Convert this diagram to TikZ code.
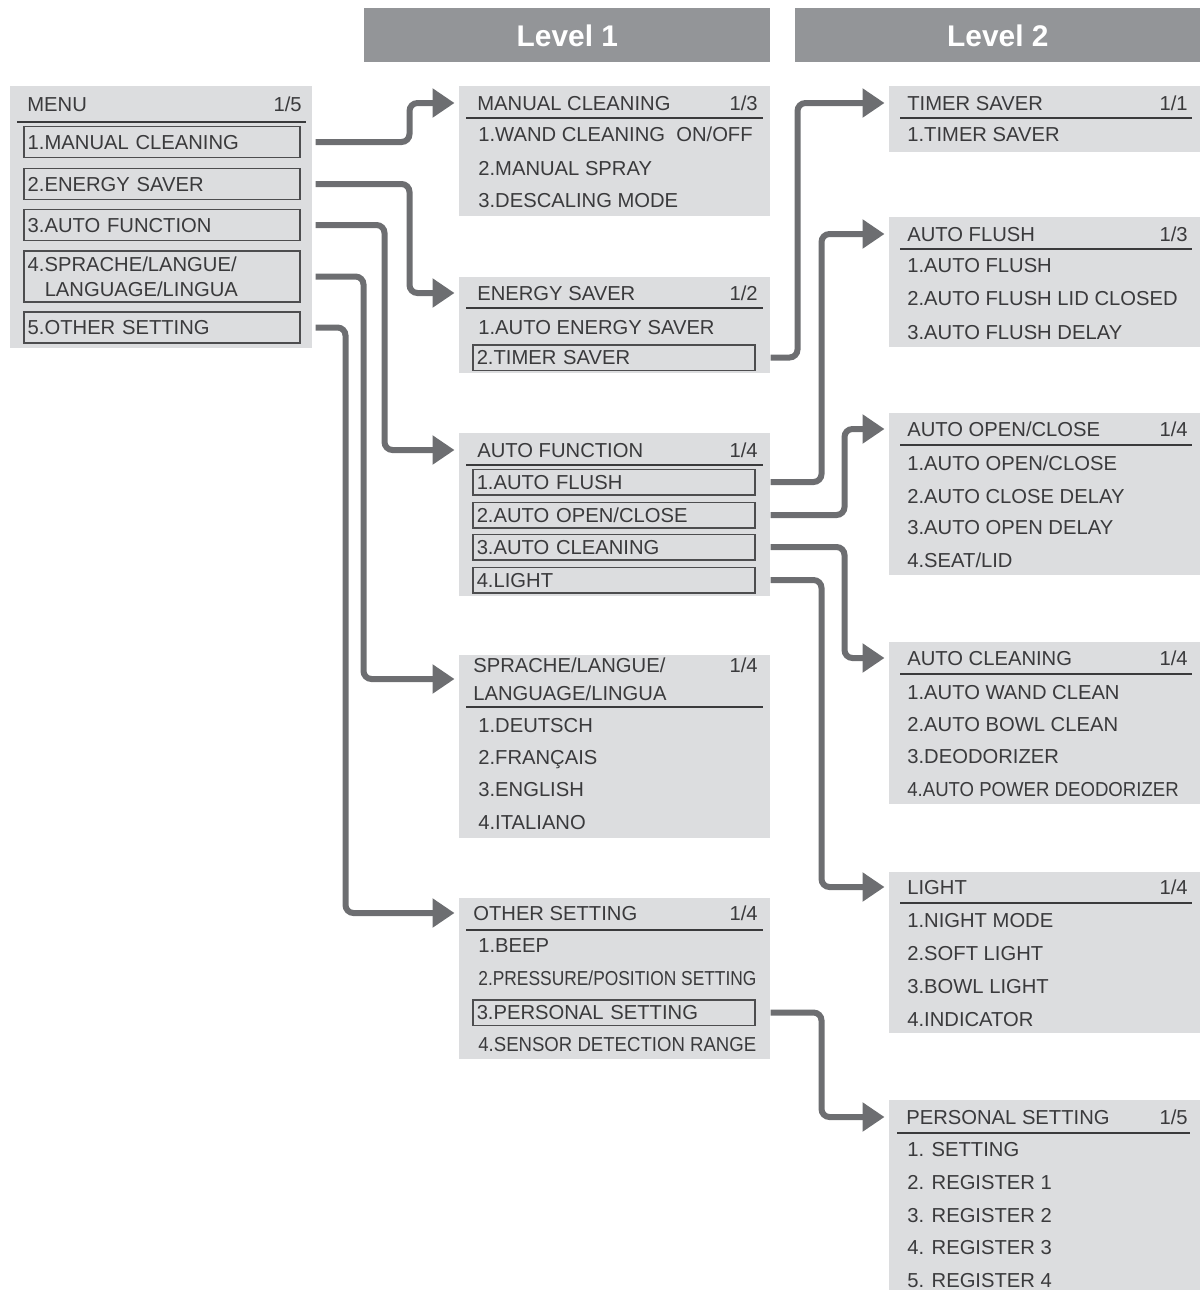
\documentclass[tikz,border=0pt]{standalone}
\usepackage{fontspec}
\setmainfont{Liberation Sans}
\usepackage{graphicx}
\usetikzlibrary{arrows.meta, positioning}

\definecolor{panelgray}{HTML}{DCDDDF}
\definecolor{levelgray}{HTML}{939598}
\definecolor{linkgray}{HTML}{6D6E71}
\definecolor{txtgray}{HTML}{3A3A3C}
\definecolor{boxgray}{HTML}{4D4D4F}

% horizontally squeezed text
\newcommand{\narrowtxt}[2]{\scalebox{#1}[1]{#2}}

\tikzset{
  panel/.style={fill=panelgray},
  levelbar/.style={fill=levelgray, text=white, font=\fontsize{17}{20}\selectfont\bfseries,
    minimum height=10.8mm, anchor=north west, inner sep=0pt},
  txt/.style={anchor=west, inner sep=0pt, text=txtgray, font=\fontsize{11.5}{14.2}\selectfont,
    text height=2.9mm, text depth=0pt},
  ttl/.style={txt, inner xsep=3.6mm},
  pg/.style={txt, anchor=east},
  rule/.style={draw=txtgray, line width=0.45mm},
  itembox/.style={txt, draw=boxgray, line width=0.3mm, inner xsep=0.8mm,
    text width=54.8mm, minimum height=5.1mm},
  menubox/.style={txt, draw=boxgray, line width=0.3mm, inner xsep=0.8mm,
    text width=53.6mm, minimum height=6.2mm},
  link/.style={draw=linkgray, line width=1.2mm, rounded corners=1.6mm,
    shorten <=3mm, shorten >=0.9mm, -{Triangle[length=4.4mm,width=5.6mm]}}
}

\begin{document}
\begin{tikzpicture}[x=0.2mm, y=-0.2mm]
\useasboundingbox (0,0) rectangle (1200,1290);

% headers
\node[levelbar, minimum width=81.2mm] (lvl1) at (364,8) {Level 1};
\node[levelbar, minimum width=81mm] (lvl2) at (795,8) {Level 2};

% panels
\fill[panel] (10,86) rectangle (312,348);
\fill[panel] (459,86) rectangle (770,216);
\fill[panel] (459,277) rectangle (770,373);
\fill[panel] (459,433) rectangle (770,596);
\fill[panel] (459,655) rectangle (770,838);
\fill[panel] (459,898) rectangle (770,1059);
\fill[panel] (889,86) rectangle (1200,152);
\fill[panel] (889,217) rectangle (1200,347);
\fill[panel] (889,413) rectangle (1200,575);
\fill[panel] (889,642) rectangle (1200,804);
\fill[panel] (889,872) rectangle (1200,1033);
\fill[panel] (889,1100) rectangle (1200,1290);

% menu
\node[txt] (menuT) at (27,104) {MENU};
\node[pg] (menuP) at (302,104) {1/5};
\draw[rule] (17,122) -- (306,122);
\node[menubox] (m1) at (23,142) {1.MANUAL CLEANING};
\node[menubox] (m2) at (23,184) {2.ENERGY SAVER};
\node[menubox] (m3) at (23,225) {3.AUTO FUNCTION};
\node[menubox, text depth=5mm, minimum height=10.2mm] (m4) at (23,276.5)
  {4.SPRACHE/LANGUE/\\\hspace*{3.4mm}LANGUAGE/LINGUA};
\node[menubox] (m5) at (23,327.5) {5.OTHER SETTING};

% level 1
\node[ttl] (mcT) at (459,103) {MANUAL CLEANING};
\node[pg] (mcP) at (758,103) {1/3};
\draw[rule] (466,118) -- (763,118);
\node[txt] (mc1) at (478,134) {1.WAND CLEANING\ \ ON/OFF};
\node[txt] (mc2) at (478,168) {2.MANUAL SPRAY};
\node[txt] (mc3) at (478,200) {3.DESCALING MODE};

\node[ttl] (esT) at (459,293) {ENERGY SAVER};
\node[pg] (esP) at (758,293) {1/2};
\draw[rule] (466,308) -- (763,308);
\node[txt] (es1) at (478,327) {1.AUTO ENERGY SAVER};
\node[itembox] (es2) at (472,357.5) {2.TIMER SAVER};

\node[ttl] (afT) at (459,450) {AUTO FUNCTION};
\node[pg] (afP) at (758,450) {1/4};
\draw[rule] (466,465) -- (763,465);
\node[itembox] (af1) at (472,482) {1.AUTO FLUSH};
\node[itembox] (af2) at (472,515) {2.AUTO OPEN/CLOSE};
\node[itembox] (af3) at (472,547) {3.AUTO CLEANING};
\node[itembox] (af4) at (472,580) {4.LIGHT};

\node[ttl, inner xsep=2.8mm, text width=55mm, text depth=5.6mm,
  font=\fontsize{11.5}{15.9}\selectfont] (spT) at (459,679)
  {SPRACHE/LANGUE/\\LANGUAGE/LINGUA};
\node[pg] (spP) at (758,665) {1/4};
\draw[rule] (466,707) -- (763,707);
\node[txt] (sp1) at (478,725) {1.DEUTSCH};
\node[txt] (sp2) at (478,757) {2.FRANÇAIS};
\node[txt] (sp3) at (478,789) {3.ENGLISH};
\node[txt] (sp4) at (478,822) {4.ITALIANO};

\node[ttl, inner xsep=2.8mm] (osT) at (459,913) {OTHER SETTING};
\node[pg] (osP) at (758,913) {1/4};
\draw[rule] (466,930) -- (763,930);
\node[txt] (os1) at (478,945) {1.BEEP};
\node[txt] (os2) at (478,978) {\narrowtxt{0.86}{2.PRESSURE/POSITION SETTING}};
\node[itembox] (os3) at (472,1012.5) {3.PERSONAL SETTING};
\node[txt] (os4) at (478,1044) {\narrowtxt{0.92}{4.SENSOR DETECTION RANGE}};

% level 2
\node[ttl] (tsT) at (889,103) {TIMER SAVER};
\node[pg] (tsP) at (1188,103) {1/1};
\draw[rule] (900,118) -- (1192,118);
\node[txt] (ts1) at (907,134) {1.TIMER SAVER};

\node[ttl] (flT) at (889,234) {AUTO FLUSH};
\node[pg] (flP) at (1188,234) {1/3};
\draw[rule] (900,249) -- (1192,249);
\node[txt] (fl1) at (907,265) {1.AUTO FLUSH};
\node[txt] (fl2) at (907,298) {2.AUTO FLUSH LID CLOSED};
\node[txt] (fl3) at (907,332) {3.AUTO FLUSH DELAY};

\node[ttl] (aoT) at (889,429) {AUTO OPEN/CLOSE};
\node[pg] (aoP) at (1188,429) {1/4};
\draw[rule] (900,445) -- (1192,445);
\node[txt] (ao1) at (907,463) {1.AUTO OPEN/CLOSE};
\node[txt] (ao2) at (907,496) {2.AUTO CLOSE DELAY};
\node[txt] (ao3) at (907,527) {3.AUTO OPEN DELAY};
\node[txt] (ao4) at (907,560) {4.SEAT/LID};

\node[ttl] (acT) at (889,658) {AUTO CLEANING};
\node[pg] (acP) at (1188,658) {1/4};
\draw[rule] (900,674) -- (1192,674);
\node[txt] (ac1) at (907,692) {1.AUTO WAND CLEAN};
\node[txt] (ac2) at (907,724) {2.AUTO BOWL CLEAN};
\node[txt] (ac3) at (907,756) {3.DEODORIZER};
\node[txt] (ac4) at (907,789) {\narrowtxt{0.92}{4.AUTO POWER DEODORIZER}};

\node[ttl] (liT) at (889,887) {LIGHT};
\node[pg] (liP) at (1188,887) {1/4};
\draw[rule] (900,903) -- (1192,903);
\node[txt] (li1) at (907,920) {1.NIGHT MODE};
\node[txt] (li2) at (907,953) {2.SOFT LIGHT};
\node[txt] (li3) at (907,986) {3.BOWL LIGHT};
\node[txt] (li4) at (907,1019) {4.INDICATOR};

\node[ttl, inner xsep=3.4mm] (psT) at (889,1117) {PERSONAL SETTING};
\node[pg] (psP) at (1188,1117) {1/5};
\draw[rule] (897,1133) -- (1190,1133);
\node[txt] (ps1) at (907,1149) {1. SETTING};
\node[txt] (ps2) at (907,1182) {2. REGISTER 1};
\node[txt] (ps3) at (907,1215) {3. REGISTER 2};
\node[txt] (ps4) at (907,1247) {4. REGISTER 3};
\node[txt] (ps5) at (907,1280) {5. REGISTER 4};

% connectors
\draw[link] (m1.east) -- ++(109,0) |- (mcT.west);
\draw[link] (m2.east) -- ++(109,0) |- (esT.west);
\draw[link] (m3.east) -- ++(84,0) |- (afT.west);
\draw[link] (m4.east) -- ++(63,0) |- (spT.west);
\draw[link] (m5.east) -- ++(45,0) |- (osT.west);
\draw[link] (es2.east) -- ++(42,0) |- (tsT.west);
\draw[link] (af1.east) -- ++(66,0) |- (flT.west);
\draw[link] (af2.east) -- ++(89,0) |- (aoT.west);
\draw[link] (af3.east) -- ++(89,0) |- (acT.west);
\draw[link] (af4.east) -- ++(66,0) |- (liT.west);
\draw[link] (os3.east) -- ++(66,0) |- (psT.west);
\end{tikzpicture}
\end{document}
